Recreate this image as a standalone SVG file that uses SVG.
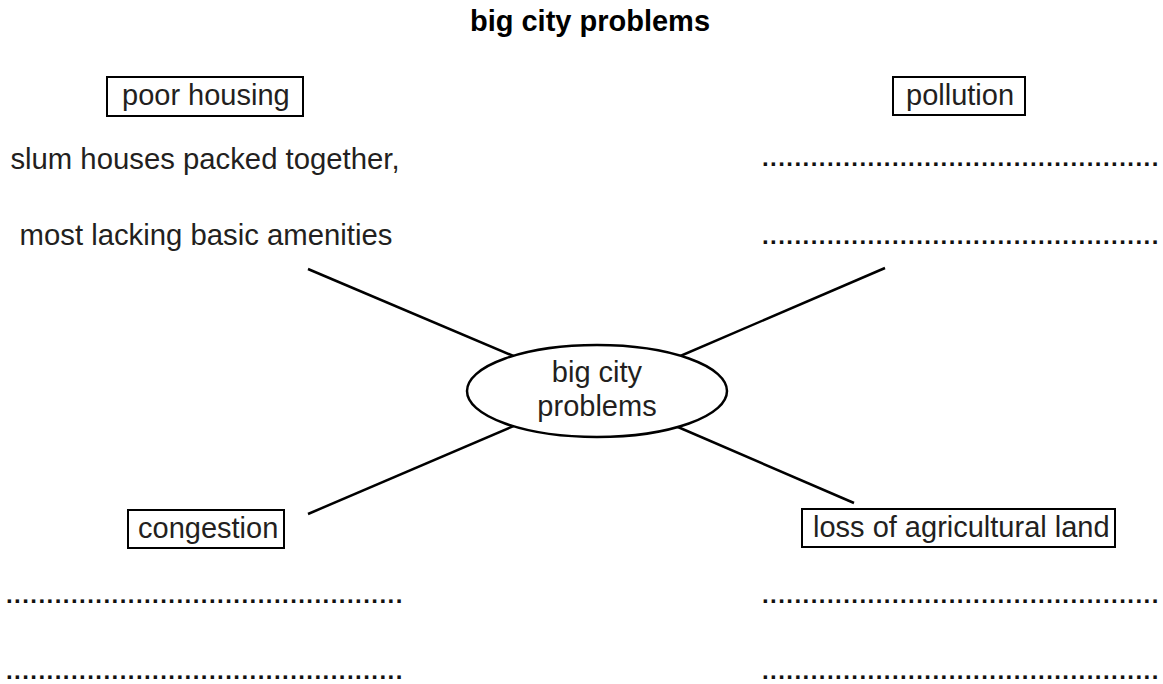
<svg xmlns="http://www.w3.org/2000/svg" width="1163" height="684" viewBox="0 0 1163 684">
<style>
text{font-family:"Liberation Sans",Arial,sans-serif;font-size:29px;fill:#231f20}
.title{font-weight:bold;fill:#000}
.box{fill:#fff;stroke:#000;stroke-width:2}
.dots{fill:#111;font-size:24px;font-weight:bold;letter-spacing:1.45px}
.conn line{stroke:#000;stroke-width:2.5}
.mid{text-anchor:middle}
</style>
<rect width="1163" height="684" fill="#fff"/>
<text class="title mid" x="590" y="31">big city problems</text>
<g id="connectors" class="conn">
<line x1="308" y1="269" x2="530" y2="363"/>
<line x1="885" y1="268" x2="664" y2="363"/>
<line x1="308" y1="514" x2="530" y2="419"/>
<line x1="854" y1="503" x2="664" y2="421"/>
</g>
<g id="center">
<ellipse cx="597" cy="391" rx="130" ry="46" fill="#fff" stroke="#000" stroke-width="2.5"/>
<text class="mid" x="597" y="382">big city</text>
<text class="mid" x="597" y="416">problems</text>
</g>
<g id="poor-housing">
<rect class="box" x="107" y="77" width="196" height="39"/>
<text x="122" y="105">poor housing</text>
<text class="mid" x="205" y="169" style="font-size:29.3px">slum houses packed together,</text>
<text class="mid" x="206" y="245" style="font-size:29.3px">most lacking basic amenities</text>
</g>
<g id="pollution">
<rect class="box" x="893" y="77" width="132" height="38"/>
<text x="906" y="105">pollution</text>
<text class="dots" x="762" y="166">.................................................</text>
<text class="dots" x="762" y="244">.................................................</text>
</g>
<g id="congestion">
<rect class="box" x="128" y="510" width="156" height="38"/>
<text x="138" y="538">congestion</text>
<text class="dots" x="6" y="603">.................................................</text>
<text class="dots" x="6" y="678.5">.................................................</text>
</g>
<g id="loss">
<rect class="box" x="802" y="509" width="313" height="38"/>
<text x="813" y="537">loss of agricultural land</text>
<text class="dots" x="762" y="603">.................................................</text>
<text class="dots" x="762" y="678.5">.................................................</text>
</g>
</svg>
